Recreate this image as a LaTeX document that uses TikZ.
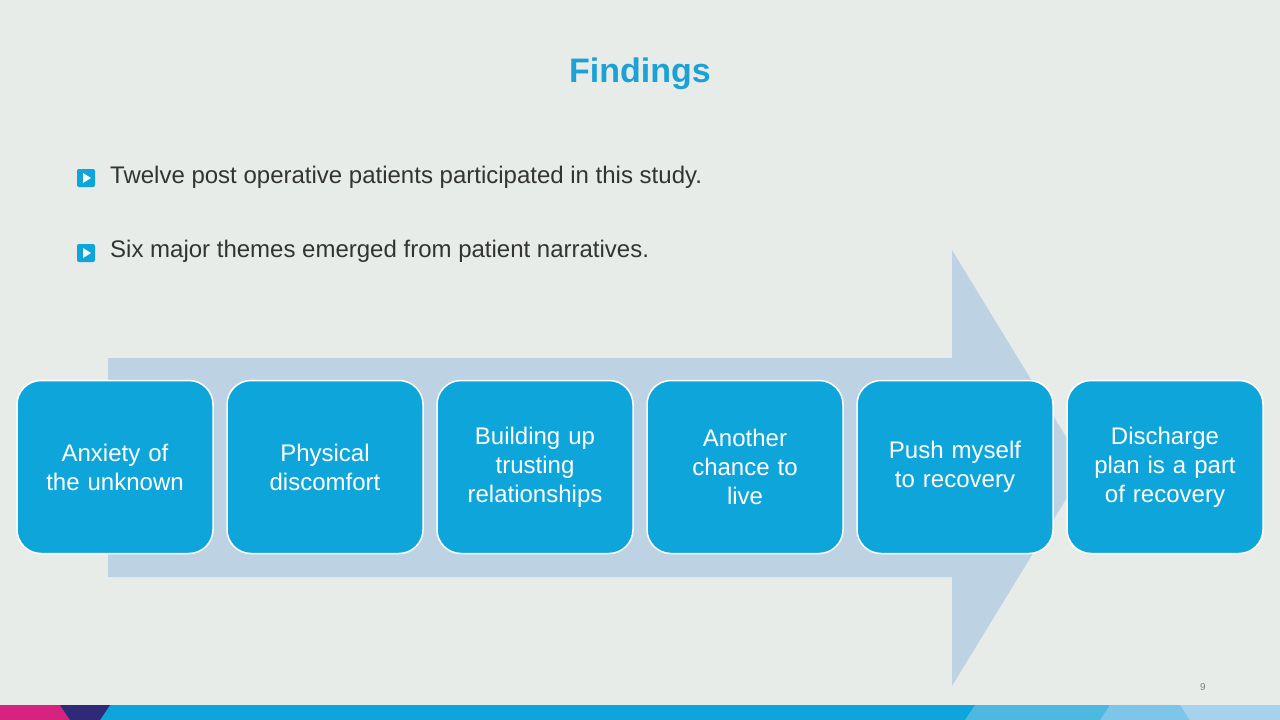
\documentclass[tikz,border=0pt]{standalone}
\usepackage{fontspec}
\setmainfont{Liberation Sans}
\definecolor{bg}{HTML}{E8ECE8}
\definecolor{boxc}{HTML}{0EA5DB}
\definecolor{arr}{HTML}{BDD3E4}
\definecolor{titlec}{HTML}{1BA1D6}
\definecolor{txt}{HTML}{333333}
\definecolor{pinkc}{HTML}{D6237F}
\definecolor{navyc}{HTML}{2E2A78}
\definecolor{lb1}{HTML}{4DB8E0}
\definecolor{lb2}{HTML}{7DC6E8}
\definecolor{lb3}{HTML}{A6D2EC}
\begin{document}
\begin{tikzpicture}[x=1pt,y=-1pt,
  theme/.style={draw=white,line width=1.5pt,fill=boxc,rounded corners=24pt,minimum width=196pt,minimum height=173pt,text width=180pt,align=center,text=white,font=\fontsize{24}{29}\selectfont},
  bullet/.style={fill=boxc,rounded corners=2pt,minimum size=18pt,inner sep=0pt},
  btext/.style={anchor=west,text=txt,font=\fontsize{24}{29}\selectfont,inner sep=0pt}]
\useasboundingbox (0,0) rectangle (1280,720);
\fill[bg] (0,0) rectangle (1280,720);
% bottom stripe
\fill[boxc] (0,705) rectangle (1280,720);
\fill[pinkc] (0,705) -- (60,705) -- (70,720) -- (0,720) -- cycle;
\fill[navyc] (60,705) -- (110,705) -- (100,720) -- (70,720) -- cycle;
\fill[lb1] (975,705) -- (1280,705) -- (1280,720) -- (965,720) -- cycle;
\fill[lb2] (1110,705) -- (1280,705) -- (1280,720) -- (1100,720) -- cycle;
\fill[lb3] (1180,705) -- (1280,705) -- (1280,720) -- (1190,720) -- cycle;
% title
\node[text=titlec,font=\fontsize{34}{40}\selectfont\bfseries] (title) at (640,74) {Findings};
% bullets
\node[bullet] (b1) at (86,178) {};
\fill[white] (83,173) -- (91,178) -- (83,183) -- cycle;
\node[btext] (t1) at (110,177) {Twelve post operative patients participated in this study.};
\node[bullet] (b2) at (86,253) {};
\fill[white] (83,248) -- (91,253) -- (83,258) -- cycle;
\node[btext] (t2) at (110,251) {Six major themes emerged from patient narratives.};
% arrow
\fill[arr] (108,358) -- (952,358) -- (952,250) -- (1085,468) -- (952,686) -- (952,577) -- (108,577) -- cycle;
% boxes
\node[theme] (n1) at (115,467) {Anxiety of\\the unknown};
\node[theme] (n2) at (325,467) {Physical\\discomfort};
\node[theme] (n3) at (535,467) {Building up\\trusting\\relationships};
\node[theme] (n4) at (745,467) {Another\\chance to\\live};
\node[theme] (n5) at (955,467) {Push myself\\to recovery};
\node[theme] (n6) at (1165,467) {Discharge\\plan is a part\\of recovery};
\node[text=gray,font=\fontsize{10}{12}\selectfont] (pg) at (1203,687) {9};
\end{tikzpicture}
\end{document}
